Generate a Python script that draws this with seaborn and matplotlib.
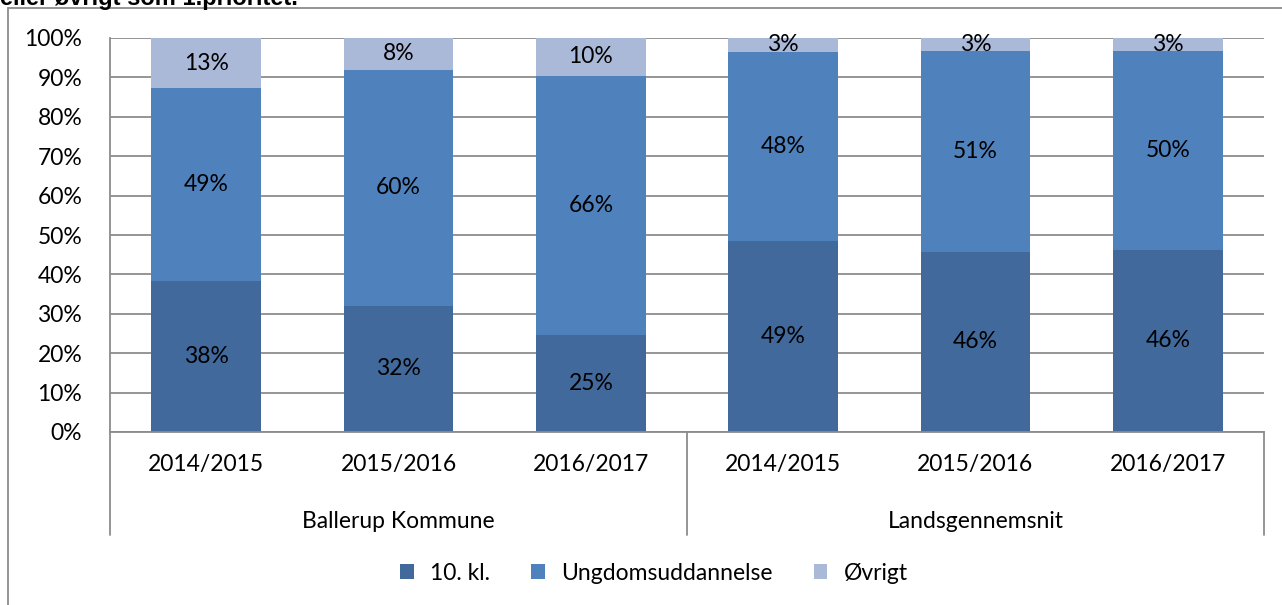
import numpy as np
import pandas as pd
import matplotlib.pyplot as plt
import seaborn as sns
from matplotlib.patches import Patch

groups = ["Ballerup Kommune", "Landsgennemsnit"]
years = ["2014/2015", "2015/2016", "2016/2017"]
series = ["10. kl.", "Ungdomsuddannelse", "Øvrigt"]

# bar heights (percent), and the labels printed on them
tiende = [38.3, 32.0, 24.6, 48.6, 45.7, 46.2]
ungdom = [49.0, 59.9, 65.8, 47.9, 51.0, 50.4]
ovrigt = [12.7, 8.1, 9.6, 3.5, 3.3, 3.4]
lbl_tiende = ["38%", "32%", "25%", "49%", "46%", "46%"]
lbl_ungdom = ["49%", "60%", "66%", "48%", "51%", "50%"]
lbl_ovrigt = ["13%", "8%", "10%", "3%", "3%", "3%"]

colors = ["#41699C", "#4F81BD", "#AAB9D8"]

keys = [g + "|" + y for g in groups for y in years]
df = pd.DataFrame({"key": keys, "a": tiende, "b": ungdom, "c": ovrigt})
df["cum1"] = df["a"]
df["cum2"] = df["a"] + df["b"]
df["cum3"] = df["cum2"] + df["c"]

sns.set_theme(style="white")
plt.rcParams["font.family"] = ["Lato", "DejaVu Sans"]
plt.rcParams["text.color"] = "black"
plt.rcParams["xtick.color"] = "black"
plt.rcParams["ytick.color"] = "black"
FS = 16.5

fig = plt.figure(figsize=(12.82, 6.05), dpi=100)
ax = fig.add_axes([110 / 1282, 1 - 432 / 605, (1264 - 110) / 1282, (432 - 38) / 605])

for col, c in zip(["cum3", "cum2", "cum1"], colors[::-1]):
    sns.barplot(data=df, x="key", y=col, order=keys, color=c, width=0.57,
                saturation=1, ax=ax, edgecolor="none", linewidth=0)

ax.set_ylim(0, 100)
ax.set_xlim(-0.5, 5.5)
ax.set_yticks(np.arange(0, 101, 10))
ax.set_yticklabels([f"{v}%" for v in range(0, 101, 10)], fontsize=FS)
ax.yaxis.grid(True, color="#8C8C8C", linewidth=1.3)
ax.set_axisbelow(True)
ax.set_xlabel("")
ax.set_ylabel("")
ax.set_xticks(range(6))
ax.set_xticklabels(years * 2, fontsize=FS)
ax.tick_params(axis="x", length=0, pad=16)
ax.tick_params(axis="y", length=0, pad=20)

for s in ["top", "right"]:
    ax.spines[s].set_visible(False)
for s in ["left", "bottom"]:
    ax.spines[s].set_color("#8C8C8C")
    ax.spines[s].set_linewidth(1.3)

# labels in the segments
for i in range(6):
    ax.text(i, df["cum1"][i] / 2, lbl_tiende[i], ha="center", va="center", fontsize=FS)
    ax.text(i, df["cum1"][i] + df["b"][i] / 2, lbl_ungdom[i], ha="center", va="center", fontsize=FS)
    ax.text(i, df["cum2"][i] + df["c"][i] / 2, lbl_ovrigt[i], ha="center", va="center", fontsize=FS)

# multi-level category axis
sep_bottom = -(535 - 432) / 394
for x in [-0.5, 2.5, 5.5]:
    ax.plot([x, x], [0, sep_bottom * 100], color="#8C8C8C", lw=1.3,
            clip_on=False, transform=ax.transData)
ax.set_ylim(0, 100)
for gi, g in enumerate(groups):
    ax.text(gi * 3 + 1, -(521 - 432) / 394 * 100, g, ha="center", va="center",
            fontsize=FS, clip_on=False)

handles = [Patch(facecolor=c, edgecolor="none") for c in colors]
fig.legend(handles, series, loc="center", bbox_to_anchor=(0.51, 1 - 573 / 605),
           ncol=3, frameon=False, fontsize=FS, handlelength=0.6, handleheight=0.6,
           columnspacing=1.8, handletextpad=0.7)

# chart border and cut-off title
fig.add_artist(plt.Line2D([8 / 1282, 8 / 1282], [0, 1 - 8 / 605], color="#8C8C8C", lw=1.3))
fig.add_artist(plt.Line2D([8 / 1282, 1], [1 - 8 / 605, 1 - 8 / 605], color="#8C8C8C", lw=1.3))
fig.text(0.0, 1 - 5 / 605, "eller øvrigt som 1.prioritet.", ha="left", va="baseline",
         fontsize=17, fontweight="bold", family=["Liberation Sans", "DejaVu Sans"])

fig.savefig("out.png", dpi=100)
